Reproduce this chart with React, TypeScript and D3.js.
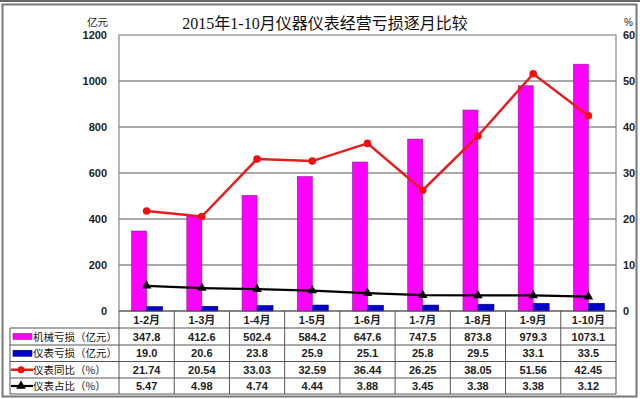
import React, { useRef, useEffect } from "react";
import * as d3 from "d3";

const categories = ["1-2月", "1-3月", "1-4月", "1-5月", "1-6月", "1-7月", "1-8月", "1-9月", "1-10月"];
const machineLoss = [347.8, 412.6, 502.4, 584.2, 647.6, 747.5, 873.8, 979.3, 1073.1];
const instLoss = [19.0, 20.6, 23.8, 25.9, 25.1, 25.8, 29.5, 33.1, 33.5];
const instYoy = [21.74, 20.54, 33.03, 32.59, 36.44, 26.25, 38.05, 51.56, 42.45];
const instShare = [5.47, 4.98, 4.74, 4.44, 3.88, 3.45, 3.38, 3.38, 3.12];
const leftTicks = [0, 200, 400, 600, 800, 1000, 1200];
const rightTicks = [0, 10, 20, 30, 40, 50, 60];

const rowLabels = ["机械亏损（亿元）", "仪表亏损（亿元）", "仪表同比（%）", "仪表占比（%）"];
const rowValues = [
  machineLoss.map((d) => d.toFixed(1)),
  instLoss.map((d) => d.toFixed(1)),
  instYoy.map((d) => d.toFixed(2)),
  instShare.map((d) => d.toFixed(2)),
];

const W = 640;
const H = 399;
const CJK = "'Noto Sans CJK SC', sans-serif";
const NUM = "'Liberation Sans', Arial, sans-serif";

const App: React.FC = () => {
  const svgRef = useRef<SVGSVGElement | null>(null);

  useEffect(() => {
    if (!svgRef.current) return;
    const svg = d3.select(svgRef.current);
    svg.selectAll("*").remove();

    const plot = { left: 119, right: 616, top: 35, bottom: 311 };
    const tableLeft = 10;
    const rowTops = [311, 328, 345, 361.5, 378, 394];

    const x = d3.scaleBand().domain(categories).range([plot.left, plot.right]);
    const y = d3.scaleLinear().domain([0, 1200]).range([plot.bottom, plot.top]);
    const y2 = d3.scaleLinear().domain([0, 60]).range([plot.bottom, plot.top]);
    const cx = (c: string) => x(c)! + x.bandwidth() / 2;
    const barW = 15;

    // 外框
    svg.append("rect").attr("width", W).attr("height", H).attr("fill", "#fff");
    svg.append("line").attr("x1", 0).attr("x2", W).attr("y1", 1).attr("y2", 1).attr("stroke", "#666").attr("stroke-width", 2);
    svg.append("rect")
      .attr("x", 2.5).attr("y", 4.5).attr("width", 634).attr("height", 392)
      .attr("fill", "none").attr("stroke", "#777").attr("stroke-width", 2);

    // title
    svg.append("text")
      .attr("x", 325).attr("y", 29).attr("text-anchor", "middle")
      .attr("font-family", "'Liberation Serif', 'Noto Sans CJK SC', serif")
      .attr("font-size", 16).attr("fill", "#111")
      .text("2015年1-10月仪器仪表经营亏损逐月比较");

    svg.append("text").attr("x", 108).attr("y", 26).attr("text-anchor", "end")
      .attr("font-family", CJK).attr("font-size", 10.5).attr("fill", "#222").text("亿元");
    svg.append("text").attr("x", 624).attr("y", 26)
      .attr("font-family", NUM).attr("font-size", 10).attr("fill", "#222").text("%");

    // grid
    svg.append("g").selectAll("line").data(leftTicks.slice(1, -1)).join("line")
      .attr("x1", plot.left).attr("x2", plot.right)
      .attr("y1", (d) => y(d)).attr("y2", (d) => y(d))
      .attr("stroke", "#555").attr("stroke-width", 1);

    svg.append("rect")
      .attr("x", plot.left).attr("y", plot.top)
      .attr("width", plot.right - plot.left).attr("height", plot.bottom - plot.top)
      .attr("fill", "none").attr("stroke", "#888").attr("stroke-width", 1.2);

    // axis labels
    svg.append("g").selectAll("text").data(leftTicks).join("text")
      .attr("x", 107).attr("y", (d) => y(d) + 4).attr("text-anchor", "end")
      .attr("font-family", NUM).attr("font-weight", "bold").attr("font-size", 11).attr("fill", "#222")
      .text((d) => d);
    svg.append("g").selectAll("text").data(rightTicks).join("text")
      .attr("x", 623).attr("y", (d) => y2(d) + 4)
      .attr("font-family", NUM).attr("font-weight", "bold").attr("font-size", 11).attr("fill", "#222")
      .text((d) => d);

    // bars
    svg.append("g").selectAll("rect").data(machineLoss).join("rect")
      .attr("x", (_, i) => cx(categories[i]) - barW)
      .attr("y", (d) => y(d)).attr("width", barW).attr("height", (d) => plot.bottom - y(d))
      .attr("fill", "#FF00FF").attr("stroke", "#8a1a8a").attr("stroke-width", 0.6);
    svg.append("g").selectAll("rect").data(instLoss).join("rect")
      .attr("x", (_, i) => cx(categories[i]))
      .attr("y", (d) => y(d)).attr("width", barW + 1).attr("height", (d) => plot.bottom - y(d))
      .attr("fill", "#0000CC").attr("stroke", "#000070").attr("stroke-width", 0.6);

    // lines
    const line = d3.line<number>().x((_, i) => cx(categories[i])).y((d) => y2(d));
    svg.append("path").datum(instYoy).attr("d", line)
      .attr("fill", "none").attr("stroke", "#E41E1E").attr("stroke-width", 2.5);
    svg.append("g").selectAll("circle").data(instYoy).join("circle")
      .attr("cx", (_, i) => cx(categories[i])).attr("cy", (d) => y2(d)).attr("r", 3.8)
      .attr("fill", "#F01010");

    svg.append("path").datum(instShare).attr("d", line)
      .attr("fill", "none").attr("stroke", "#000").attr("stroke-width", 2.2);
    const tri = d3.symbol().type(d3.symbolTriangle).size(40);
    svg.append("g").selectAll("path").data(instShare).join("path")
      .attr("transform", (d, i) => `translate(${cx(categories[i])},${y2(d)})`)
      .attr("d", tri).attr("fill", "#000");

    // table
    const tg = svg.append("g");
    const tStroke = "#555";
    tg.append("line").attr("x1", plot.left).attr("x2", plot.right)
      .attr("y1", rowTops[0]).attr("y2", rowTops[0]).attr("stroke", tStroke);
    rowTops.slice(1).forEach((ry) => {
      tg.append("line").attr("x1", tableLeft).attr("x2", plot.right)
        .attr("y1", ry).attr("y2", ry).attr("stroke", tStroke);
    });
    tg.append("line").attr("x1", tableLeft).attr("x2", tableLeft)
      .attr("y1", rowTops[1]).attr("y2", rowTops[5]).attr("stroke", tStroke);
    tg.selectAll("line.v").data(categories).join("line").attr("class", "v")
      .attr("x1", (d) => x(d)!).attr("x2", (d) => x(d)!)
      .attr("y1", rowTops[0]).attr("y2", rowTops[5]).attr("stroke", tStroke);
    tg.append("line").attr("x1", plot.right).attr("x2", plot.right)
      .attr("y1", rowTops[0]).attr("y2", rowTops[5]).attr("stroke", tStroke);

    tg.selectAll("text.cat").data(categories).join("text").attr("class", "cat")
      .attr("x", (d) => cx(d)).attr("y", rowTops[0] + 12.5).attr("text-anchor", "middle")
      .attr("font-family", `${NUM}, ${CJK}`).attr("font-weight", "bold").attr("font-size", 11).attr("fill", "#222")
      .text((d) => d);

    rowValues.forEach((vals, r) => {
      const mid = (rowTops[r + 1] + rowTops[r + 2]) / 2;
      tg.append("g").selectAll("text").data(vals).join("text")
        .attr("x", (_, i) => cx(categories[i])).attr("y", mid + 4).attr("text-anchor", "middle")
        .attr("font-family", NUM).attr("font-weight", "bold").attr("font-size", 11).attr("fill", "#222")
        .text((d) => d);
      tg.append("text").attr("x", 33).attr("y", mid + 4)
        .attr("font-family", CJK).attr("font-size", 10.5).attr("fill", "#111")
        .text(rowLabels[r]);

      // legend keys
      if (r === 0 || r === 1) {
        tg.append("rect").attr("x", 13).attr("y", mid - 3).attr("width", 19).attr("height", 6)
          .attr("fill", r === 0 ? "#FF00FF" : "#0000CC").attr("stroke", r === 0 ? "#8a1a8a" : "#000070").attr("stroke-width", 0.6);
      } else if (r === 2) {
        tg.append("line").attr("x1", 11).attr("x2", 33).attr("y1", mid).attr("y2", mid)
          .attr("stroke", "#E41E1E").attr("stroke-width", 2.5);
        tg.append("circle").attr("cx", 21).attr("cy", mid).attr("r", 3.5).attr("fill", "#F01010");
      } else {
        tg.append("line").attr("x1", 11).attr("x2", 33).attr("y1", mid).attr("y2", mid)
          .attr("stroke", "#000").attr("stroke-width", 2.2);
        tg.append("path").attr("transform", `translate(21,${mid})`).attr("d", tri).attr("fill", "#000");
      }
    });
  }, []);

  return <svg ref={svgRef} width={W} height={H} style={{ position: "absolute", left: 0, top: 0 }}></svg>;
};

export default App;
